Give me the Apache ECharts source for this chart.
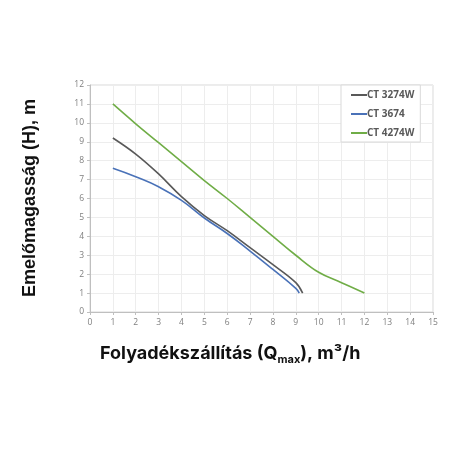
<!doctype html>
<html lang="hu">
<head>
    <meta charset="UTF-8">
    <title>Emelőmagasság</title>
    <script src="https://cdn.jsdelivr.net/npm/echarts@6/dist/echarts.min.js"></script>
    <style>
        html, body { margin: 0; padding: 0; background: #fff; }
        #chart { width: 456px; height: 456px; }
    </style>
</head>
<body>
<div id="chart"></div>
<script type="text/javascript">
    // series names
    var seriesNames = ['CT 3274W', 'CT 3674', 'CT 4274W'];
    // CT 3274W  (Q, H)
    var q3274 = [1, 2, 3, 4, 5, 6, 7, 8, 9, 9.3];
    var h3274 = [9.2, 8.35, 7.3, 6.1, 5.1, 4.3, 3.4, 2.5, 1.55, 1.0];
    // CT 3674
    var q3674 = [1, 2, 3, 4, 5, 6, 7, 8, 9, 9.15];
    var h3674 = [7.6, 7.15, 6.62, 5.9, 4.97, 4.15, 3.22, 2.25, 1.25, 1.0];
    // CT 4274W
    var q4274 = [1, 2, 3, 4, 5, 6, 7, 8, 9, 10, 11, 12];
    var h4274 = [11, 9.95, 8.95, 7.95, 6.95, 6.0, 5.0, 4.0, 3.0, 2.1, 1.55, 1.0];
    var colors = ['#595959', '#4a72b8', '#70ad47'];

    //把x、y拼成点
    var toPoints = function (xs, ys) {
        return xs.map(function (x, i) { return [x, ys[i]]; });
    };

    var myChart = echarts.init(document.getElementById('chart'));
    var option = {
        animation: false,
        color: colors,
        grid: {
            left: 90, right: 23, top: 85, bottom: 144,
            show: true, borderColor: '#d9d9d9', borderWidth: 1
        },
        legend: {
            orient: 'vertical',
            left: 341, top: 85,
            width: 92, height: 55,
            padding: [5, 6, 4, 10],
            itemGap: 9,
            itemWidth: 16, itemHeight: 2,
            icon: 'rect',
            backgroundColor: '#fff',
            borderColor: '#d9d9d9', borderWidth: 1,
            textStyle: { fontFamily: 'Open Sans', fontWeight: 'bold', fontSize: 10, color: '#595959', padding: [0, 0, 0, -5] },
            data: seriesNames
        },
        xAxis: {
            type: 'value', min: 0, max: 15, interval: 1,
            axisLine: { show: true, lineStyle: { color: '#bfbfbf' } },
            axisTick: { show: true, length: 3, lineStyle: { color: '#bfbfbf' } },
            axisLabel: { fontFamily: 'Open Sans', fontSize: 8.5, color: '#7f7f7f', margin: 6 },
            splitLine: { lineStyle: { color: '#ededed' } }
        },
        yAxis: {
            type: 'value', min: 0, max: 12, interval: 1,
            axisLine: { show: true, lineStyle: { color: '#bfbfbf' } },
            axisTick: { show: true, length: 3, lineStyle: { color: '#bfbfbf' } },
            axisLabel: { fontFamily: 'Open Sans', fontSize: 8.5, color: '#7f7f7f', margin: 6 },
            splitLine: { lineStyle: { color: '#ededed' } }
        },
        graphic: [
            {
                type: 'text', left: 100, top: 345,
                style: {
                    text: 'Folyadékszállítás (Q{sub|max}), m³/h',
                    font: 'bold 18px Inter',
                    fill: '#111',
                    rich: {
                        sub: { fontFamily: 'Inter', fontWeight: 'bold', fontSize: 11, fill: '#111', padding: [11, 0, 0, 0] }
                    }
                }
            },
            {
                type: 'text', x: 30, y: 198, rotation: Math.PI / 2,
                style: {
                    text: 'Emelőmagasság (H), m',
                    font: 'bold 18px "Liberation Sans"',
                    fill: '#111',
                    align: 'center', verticalAlign: 'middle'
                }
            }
        ],
        series: [
            { name: seriesNames[0], type: 'line', smooth: 0.4, showSymbol: false, lineStyle: { width: 1.6 }, data: toPoints(q3274, h3274) },
            { name: seriesNames[1], type: 'line', smooth: 0.5, showSymbol: false, lineStyle: { width: 1.6 }, data: toPoints(q3674, h3674) },
            { name: seriesNames[2], type: 'line', smooth: 0.4, showSymbol: false, lineStyle: { width: 1.6 }, data: toPoints(q4274, h4274) }
        ]
    };
    myChart.setOption(option);
</script>
</body>
</html>
